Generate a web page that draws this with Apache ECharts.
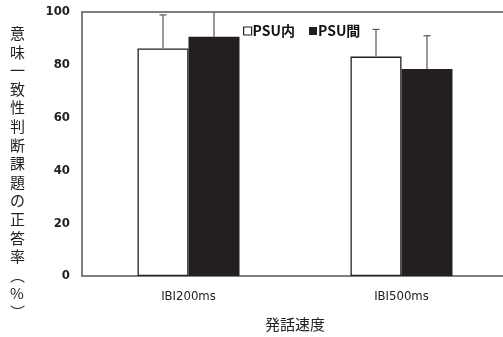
<!DOCTYPE html>
<html><head><meta charset="utf-8">
<script src="https://cdn.jsdelivr.net/npm/echarts@6/dist/echarts.min.js"></script>
<style>html,body{margin:0;padding:0;background:#fff}#c{width:503px;height:337px}</style>
</head><body><div id="c"></div>
<script>
const categories = ['IBI200ms', 'IBI500ms'];
const seriesNames = ['PSU内', 'PSU間'];
const withinValues = [86.2, 83.1];
const withinErrors = [12.7, 10.3];
const betweenValues = [90.6, 78.4];
const betweenErrors = [10.5, 12.6];
const yTicks = [0, 20, 40, 60, 80, 100];
const yTitle = '意味一致性判断課題の正答率︵%︶';
const xTitle = '発話速度';

const BAR_W = 51;
const narrow = '"DejaVu Sans Condensed", "Liberation Sans Narrow", sans-serif';
const cjk = '"Noto Sans CJK JP", sans-serif';

function errRender(values, errors, side) {
  return function (params, api) {
    const i = api.value(0);
    const top = Math.min(values[i] + errors[i], yTicks[yTicks.length - 1]);
    const base = api.coord([i, values[i]]);
    const up = api.coord([i, top]);
    const x = base[0] + side * BAR_W / 2;
    const children = [{
      type: 'line', shape: { x1: x, y1: base[1], x2: x, y2: up[1] },
      style: { stroke: '#555', lineWidth: 1.2 }
    }];
    if (values[i] + errors[i] <= yTicks[yTicks.length - 1]) {
      children.push({
        type: 'line', shape: { x1: x - 3.5, y1: up[1], x2: x + 3.5, y2: up[1] },
        style: { stroke: '#555', lineWidth: 1.2 }
      });
    }
    return { type: 'group', children };
  };
}

const chart = echarts.init(document.getElementById('c'), null, { renderer: 'canvas' });
chart.setOption({
  animation: false,
  backgroundColor: '#fff',
  grid: { left: 82, width: 426, top: 12, bottom: 61, show: false, containLabel: false, outerBoundsMode: 'none' },
  legend: {
    data: [
      { name: seriesNames[0], icon: 'rect', itemStyle: { color: '#fff', borderColor: '#222', borderWidth: 1.2 } },
      { name: seriesNames[1], icon: 'rect' }
    ],
    left: 238, top: 19, itemWidth: 8, itemHeight: 8, itemGap: 14,
    textStyle: { fontFamily: cjk, fontSize: 14, fontWeight: 'bold', color: '#111', padding: [0, 0, 0, -4] },
    selectedMode: false
  },
  graphic: [{
    type: 'text', left: 10, top: 24,
    style: { text: yTitle.split('').join('\n'), font: '15px ' + cjk, fill: '#222', lineHeight: 18.6, align: 'center' }
  }],
  xAxis: [{
    type: 'category', data: categories,
    name: xTitle, nameLocation: 'middle', nameGap: 41,
    nameTextStyle: { fontFamily: cjk, fontSize: 15, color: '#222' },
    axisLine: { lineStyle: { color: '#555', width: 1.5 } },
    axisTick: { show: false },
    axisLabel: { fontFamily: narrow, fontSize: 13, color: '#222', margin: 14 }
  }, {
    type: 'category', data: categories, position: 'top',
    axisLine: { show: true, lineStyle: { color: '#555', width: 1.5 } },
    axisTick: { show: false }, axisLabel: { show: false }
  }],
  yAxis: {
    type: 'value', min: 0, max: 100, interval: 20,
    axisLine: { show: true, lineStyle: { color: '#555', width: 1.5 } },
    axisTick: { show: false },
    splitLine: { show: false },
    axisLabel: { fontFamily: narrow, fontSize: 13, fontWeight: 'bold', color: '#222', margin: 12 }
  },
  series: [
    { name: seriesNames[0], type: 'bar', data: withinValues, barWidth: BAR_W, barGap: '0%',
      itemStyle: { color: '#fff', borderColor: '#222', borderWidth: 1.3 } },
    { name: seriesNames[1], type: 'bar', data: betweenValues, barWidth: BAR_W, barGap: '0%',
      itemStyle: { color: '#231f20' } },
    { type: 'custom', data: categories.map((c, i) => [i]), renderItem: errRender(withinValues, withinErrors, -1), z: 5, silent: true },
    { type: 'custom', data: categories.map((c, i) => [i]), renderItem: errRender(betweenValues, betweenErrors, 1), z: 5, silent: true }
  ]
});
</script></body></html>
